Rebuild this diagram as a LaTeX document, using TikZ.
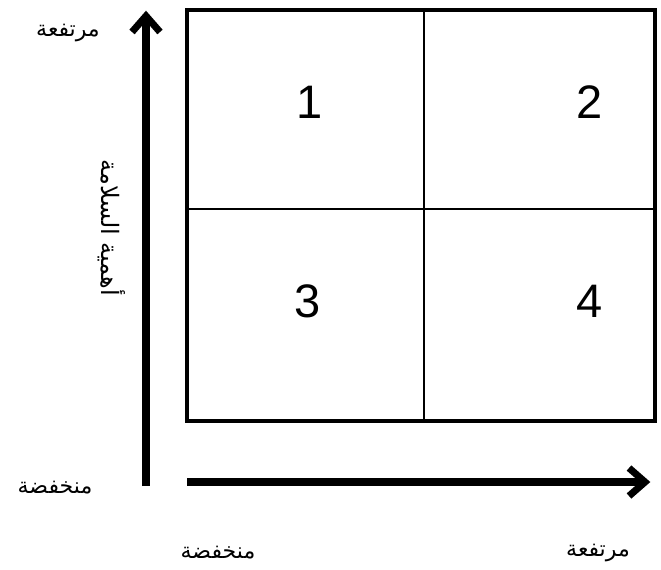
\documentclass[tikz,border=0pt]{standalone}
\usepackage{fontspec}
\setmainfont{Liberation Sans}
\newfontfamily\arabicfont[Script=Arabic]{DejaVu Sans}
\TeXXeTstate=1
\begin{document}
\begin{tikzpicture}[x=1pt,y=-1pt,
  frame/.style={line width=4pt},
  divider/.style={line width=1.5pt},
  axis/.style={line width=8pt},
  headline/.style={line width=7pt,miter limit=10},
  num/.style={font=\fontsize{47}{50}\selectfont},
  lbl/.style={font=\arabicfont\fontsize{22}{24}\selectfont}]
\useasboundingbox (0,0) rectangle (661,570);
% grid
\draw[frame] (187,10) rectangle (655,421);
\coordinate (tm) at (424,10); \coordinate (bm) at (424,421);
\coordinate (lm) at (187,209); \coordinate (rm) at (655,209);
\draw[divider] (tm) -- (bm);
\draw[divider] (lm) -- (rm);
% numbers
\node[num] (n1) at (310,102) {1};
\node[num] (n2) at (590,102) {2};
\node[num] (n3) at (308,301) {3};
\node[num] (n4) at (590,301) {4};
% vertical axis
\coordinate (vb) at (146,486);
\coordinate (vt) at (146,17);
\draw[axis] (vb) -- (vt);
\coordinate (vh) at (146,16);
\draw[headline] ([xshift=-14pt,yshift=-16pt]vh) -- (vh) -- ([xshift=14pt,yshift=-16pt]vh);
% horizontal axis
\coordinate (hl) at (187,482);
\coordinate (hr) at (643,482);
\draw[axis] (hl) -- (hr);
\coordinate (hh) at (645,482);
\draw[headline] ([xshift=-16pt,yshift=-14pt]hh) -- (hh) -- ([xshift=-16pt,yshift=14pt]hh);
% labels
\node[lbl] (hiY) at (68,33) {\beginR مرتفعة\endR};
\node[lbl] (loY) at (55,488) {\beginR منخفضة\endR};
\node[lbl,rotate=-90,font=\arabicfont\fontsize{24}{26}\selectfont] (yt) at (112,228) {\beginR أهمية السلامة\endR};
\node[lbl] (loX) at (218,553) {\beginR منخفضة\endR};
\node[lbl] (hiX) at (598,553) {\beginR مرتفعة\endR};
\end{tikzpicture}
\end{document}
